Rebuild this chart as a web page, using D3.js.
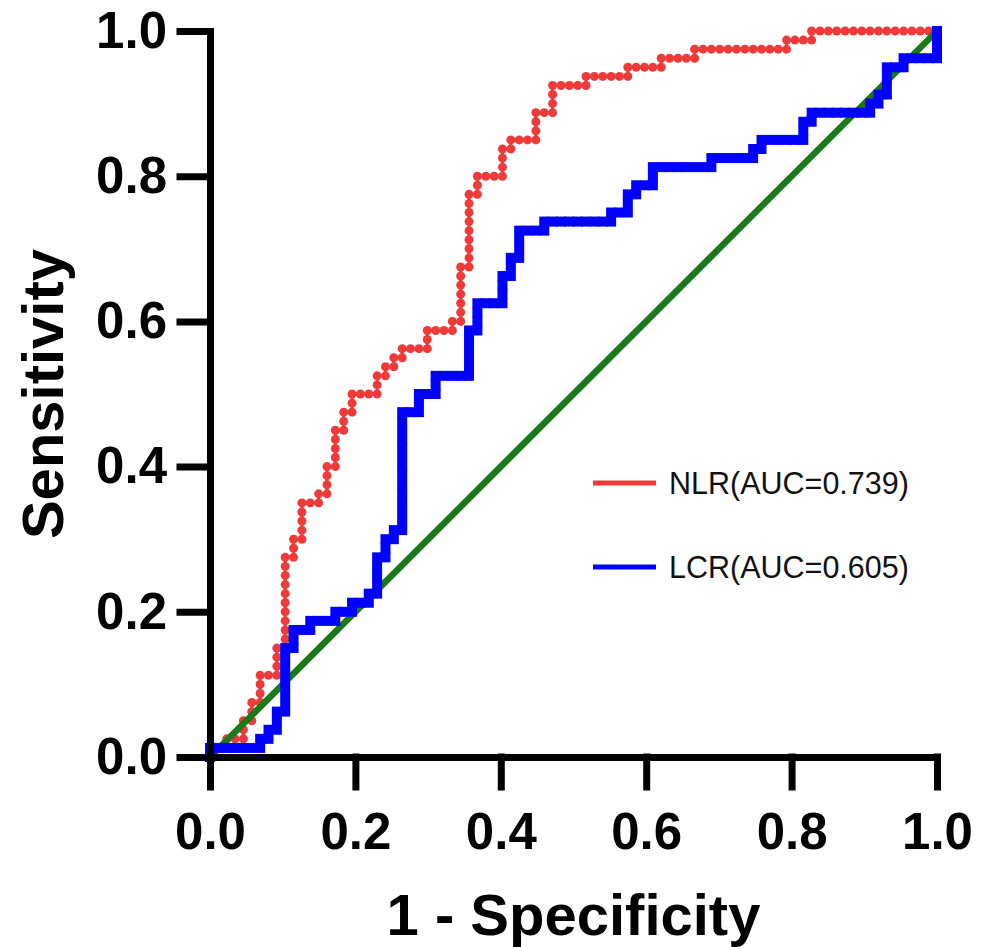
<!DOCTYPE html>
<html>
<head>
<meta charset="utf-8">
<script src="https://cdn.jsdelivr.net/npm/d3@7"></script>
<style>
  body { margin: 0; background: #fff; }
  svg { display: block; font-family: "Liberation Sans", Arial, sans-serif; }
</style>
</head>
<body>
<div id="chart"></div>
<script>
// group sizes (negatives / positives) of the ROC analysis
var nNeg = 87
var nPos = 80

// corners of the step curves, as [false positives, true positives] counts
var nlrCorners = [[0,0],[0,1],[2,1],[2,2],[4,2],[4,4],[5,4],[5,6],[6,6],[6,9],[8,9],[8,12],[9,12],[9,22],
  [10,22],[10,24],[11,24],[11,28],[13,28],[13,29],[14,29],[14,32],[15,32],[15,36],[16,36],[16,38],[17,38],
  [17,40],[20,40],[20,42],[21,42],[21,43],[22,43],[22,44],[23,44],[23,45],[26,45],[26,47],[29,47],[29,48],
  [30,48],[30,54],[31,54],[31,62],[32,62],[32,64],[35,64],[35,67],[36,67],[36,68],[39,68],[39,71],[41,71],
  [41,74],[45,74],[45,75],[50,75],[50,76],[54,76],[54,77],[58,77],[58,78],[69,78],[69,79],[72,79],[72,80],[87,80]]

var lcrCorners = [[0,0],[0,1],[6,1],[6,2],[7,2],[7,3],[8,3],[8,5],[9,5],[9,12],[10,12],[10,14],[12,14],[12,15],
  [15,15],[15,16],[17,16],[17,17],[19,17],[19,18],[20,18],[20,22],[21,22],[21,24],[22,24],[22,25],[23,25],
  [23,38],[25,38],[25,40],[27,40],[27,42],[31,42],[31,47],[32,47],[32,50],[35,50],[35,53],[36,53],[36,55],
  [37,55],[37,58],[40,58],[40,59],[48,59],[48,60],[50,60],[50,62],[51,62],[51,63],[53,63],[53,65],[60,65],
  [60,66],[65,66],[65,67],[66,67],[66,68],[71,68],[71,70],[72,70],[72,71],[79,71],[79,72],[80,72],[80,73],
  [81,73],[81,76],[83,76],[83,77],[87,77],[87,80]]

var tickValues = [0, 0.2, 0.4, 0.6, 0.8, 1.0]
var legendNames = ["NLR(AUC=0.739)", "LCR(AUC=0.605)"]

var w = 988
var h = 947

var x = d3.scaleLinear().domain([0, 1]).range([210, 937])
var y = d3.scaleLinear().domain([0, 1]).range([757, 31])

// every threshold moves the curve by one case, so walk the corners one case at a time
function thresholdPoints(corners) {
  var pts = [{fpr: 0, tpr: 0}]
  for (var i = 1; i < corners.length; i++) {
    var a = corners[i - 1], b = corners[i]
    var fp = a[0], tp = a[1]
    while (fp !== b[0] || tp !== b[1]) {
      if (fp < b[0]) fp++
      if (tp < b[1]) tp++
      pts.push({fpr: fp / nNeg, tpr: tp / nPos})
    }
  }
  return pts
}

var nlrPoints = thresholdPoints(nlrCorners)
var lcrPoints = thresholdPoints(lcrCorners)

var svg = d3.select('#chart')
  .append('svg')
  .attr('width', w)
  .attr('height', h)

var line = d3.line()
  .x(function(d) { return x(d.fpr) })
  .y(function(d) { return y(d.tpr) })

// NLR curve, red with round markers
svg.append('path')
  .datum(nlrPoints)
  .attr('d', line)
  .attr('fill', 'none')
  .attr('stroke', '#f03a3a')
  .attr('stroke-width', 3)

svg.selectAll('circle.nlr')
  .data(nlrPoints)
  .enter()
  .append('circle')
  .attr('class', 'nlr')
  .attr('cx', function(d) { return x(d.fpr) })
  .attr('cy', function(d) { return y(d.tpr) })
  .attr('r', 4.5)
  .attr('fill', '#f03a3a')

// reference diagonal
svg.append('line')
  .attr('x1', x(0)).attr('y1', y(0))
  .attr('x2', x(1)).attr('y2', y(1))
  .attr('stroke', '#1a7a1a')
  .attr('stroke-width', 6.5)

// LCR curve, blue with square markers
svg.append('path')
  .datum(lcrPoints)
  .attr('d', line)
  .attr('fill', 'none')
  .attr('stroke', '#0000ff')
  .attr('stroke-width', 5)

svg.selectAll('rect.lcr')
  .data(lcrPoints)
  .enter()
  .append('rect')
  .attr('class', 'lcr')
  .attr('x', function(d) { return x(d.fpr) - 5 })
  .attr('y', function(d) { return y(d.tpr) - 5 })
  .attr('width', 10)
  .attr('height', 10)
  .attr('fill', '#0000ff')

// axes
var xAxis = d3.axisBottom(x)
  .tickValues(tickValues)
  .tickFormat(d3.format('.1f'))
  .tickSize(30)
  .tickSizeOuter(0)
  .tickPadding(26)

var yAxis = d3.axisLeft(y)
  .tickValues(tickValues)
  .tickFormat(d3.format('.1f'))
  .tickSize(30)
  .tickSizeOuter(0)
  .tickPadding(13)

var gx = svg.append('g')
  .attr('transform', 'translate(0,' + y(0) + ')')
  .call(xAxis)

var gy = svg.append('g')
  .attr('transform', 'translate(' + x(0) + ',0)')
  .call(yAxis)

;[gx, gy].forEach(function(g) {
  g.selectAll('path.domain, line')
    .attr('stroke', '#000')
    .attr('stroke-width', 7)
    .attr('stroke-linecap', 'square')
  g.selectAll('text')
    .attr('fill', '#000')
    .style('font-size', '51px')
    .style('font-weight', 'bold')
    .style('font-family', '"Liberation Sans", Arial, sans-serif')
})

// axis titles
svg.append('text')
  .attr('x', (x(0) + x(1)) / 2)
  .attr('y', 935)
  .attr('text-anchor', 'middle')
  .style('font-size', '58px')
  .style('font-weight', 'bold')
  .text('1 - Specificity')

svg.append('text')
  .attr('transform', 'translate(63,' + (y(0) + y(1)) / 2 + ') rotate(-90)')
  .attr('text-anchor', 'middle')
  .style('font-size', '58px')
  .style('font-weight', 'bold')
  .text('Sensitivity')

// legend
var legendColors = ['#f03a3a', '#0000ff']
var legendY = [483, 567]

legendNames.forEach(function(name, i) {
  svg.append('line')
    .attr('x1', 593).attr('x2', 656)
    .attr('y1', legendY[i]).attr('y2', legendY[i])
    .attr('stroke', legendColors[i])
    .attr('stroke-width', 5)
  svg.append('text')
    .attr('x', 669)
    .attr('y', legendY[i] + 11)
    .style('font-size', '30.5px')
    .attr('fill', '#111')
    .text(name)
})
</script>
</body>
</html>
